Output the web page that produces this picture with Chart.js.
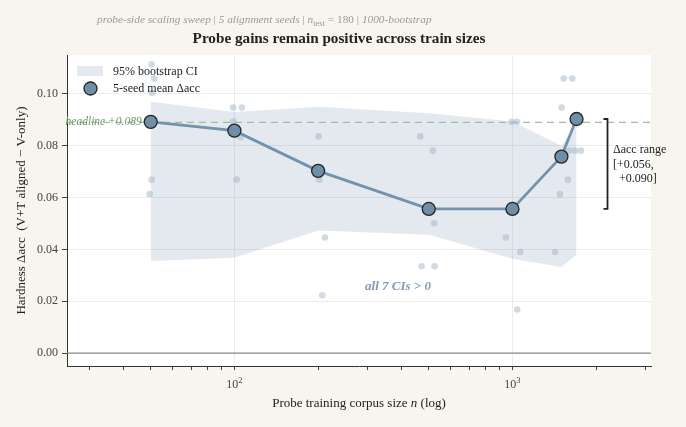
<!DOCTYPE html>
<html>
<head>
<meta charset="utf-8">
<script src="https://cdn.jsdelivr.net/npm/chart.js@4.4.1/dist/chart.umd.min.js"></script>
<style>
  html, body { margin: 0; padding: 0; background: #f8f5ef; }
  #wrap { width: 686px; height: 427px; }
</style>
</head>
<body>
<div id="wrap"><canvas id="myChart" width="686" height="427"></canvas></div>
<script>
// probe training sizes and 5-seed mean delta acc
var trainSizes = [50, 100, 200, 500, 1000, 1500, 1700];
var meanGain   = [0.0892, 0.0858, 0.0703, 0.0556, 0.0556, 0.0758, 0.0903];
// 95% bootstrap CI
var ciLow  = [0.0355, 0.0368, 0.0473, 0.0456, 0.0364, 0.0332, 0.0380];
var ciHigh = [0.0970, 0.0930, 0.0950, 0.0925, 0.0893, 0.0800, 0.0880];
// single seeds (x jittered in the figure)
var seedN   = [50.4, 51.5, 50.6, 50.4, 49.6,
               99, 106.4, 99, 105.3, 101.8,
               200.9, 201.8, 211.6, 207,
               466, 517.6, 523.2, 471.4, 524.9,
               993, 1038, 947.5, 1067, 1040.6,
               1503, 1583, 1482, 1422,
               1529, 1641, 1597, 1678, 1764];
var seedGain = [0.1114, 0.1059, 0.1003, 0.0669, 0.0613,
                0.0947, 0.0947, 0.0893, 0.0833, 0.0669,
                0.0836, 0.0669, 0.0446, 0.0223,
                0.0836, 0.0781, 0.0501, 0.0335, 0.0335,
                0.0892, 0.0892, 0.0446, 0.0390, 0.0168,
                0.0947, 0.0669, 0.0613, 0.0390,
                0.1059, 0.1059, 0.0781, 0.0781, 0.0781];
var headline = 0.089;
var xTicks = [30, 40, 50, 60, 70, 80, 90, 100, 200, 300, 400, 500, 600, 700, 800, 900, 1000, 2000, 3000];
var xMajor = [[100, '2'], [1000, '3']];
var yTicks = [0, 0.02, 0.04, 0.06, 0.08, 0.10];
var xMin = 25, xMax = 3150;

var serif = "'Liberation Serif', 'DejaVu Serif', serif";
var bandColor = 'rgba(115,147,173,0.2)';
var lineColor = '#7393ad';
var markerColor = '#6f8fa8';

var seedPts = seedN.map(function (n, i) { return {x: n, y: seedGain[i]}; });

// draws a run of [font, text, dy] pieces starting at x
function drawRun(c, parts, x, y) {
  parts.forEach(function (p) {
    c.font = p[0];
    c.fillText(p[1], x, y + p[2]);
    x += c.measureText(p[1]).width;
  });
}
function runWidth(c, parts) {
  var w = 0;
  parts.forEach(function (p) { c.font = p[0]; w += c.measureText(p[1]).width; });
  return w;
}

var figPlugin = {
  id: 'fig',
  beforeDraw: function (chart) {
    var c = chart.ctx, a = chart.chartArea;
    c.save();
    c.fillStyle = '#f8f5ef';
    c.fillRect(0, 0, chart.width, chart.height);
    c.fillStyle = '#ffffff';
    c.fillRect(a.left, a.top, a.right - a.left, a.bottom - a.top);
    c.restore();
  },
  beforeDatasetsDraw: function (chart) {
    var c = chart.ctx, a = chart.chartArea, y0 = chart.scales.y.getPixelForValue(0);
    c.save();
    c.strokeStyle = '#8a8a8a';
    c.lineWidth = 1.2;
    c.beginPath(); c.moveTo(a.left, y0); c.lineTo(a.right, y0); c.stroke();
    c.restore();
  },
  afterDraw: function (chart) {
    var c = chart.ctx, xs = chart.scales.x, ys = chart.scales.y, a = chart.chartArea;
    c.save();
    // subtitle
    c.fillStyle = '#9a9a9a';
    c.textBaseline = 'alphabetic';
    var f = 11.3;
    drawRun(c, [
      ['italic ' + f + 'px ' + serif, 'probe-side scaling sweep', 0],
      [f + 'px ' + serif, ' | ', 0],
      ['italic ' + f + 'px ' + serif, '5 alignment seeds', 0],
      [f + 'px ' + serif, ' | ', 0],
      ['italic ' + f + 'px ' + serif, 'n', 0],
      ['8.5px ' + serif, 'test', 3],
      [f + 'px ' + serif, ' = 180 | ', 0],
      ['italic ' + f + 'px ' + serif, '1000-bootstrap', 0]
    ], 97, 23);
    // title
    c.fillStyle = '#222';
    c.font = 'bold 15.2px ' + serif;
    c.textAlign = 'center';
    c.textBaseline = 'middle';
    c.fillText('Probe gains remain positive across train sizes', 339, 39);

    // x tick labels 10^k
    c.textAlign = 'left';
    c.textBaseline = 'alphabetic';
    c.fillStyle = '#444';
    xMajor.forEach(function (m) {
      var parts = [['12px ' + serif, '10', 0], ['8.5px ' + serif, m[1], -5]];
      var px = xs.getPixelForValue(m[0]);
      drawRun(c, parts, px - runWidth(c, parts) / 2, 388);
    });

    // x axis title with italic n
    c.fillStyle = '#222';
    var tparts = [['13px ' + serif, 'Probe training corpus size ', 0], ['italic 13px ' + serif, 'n', 0], ['13px ' + serif, ' (log)', 0]];
    drawRun(c, tparts, (a.left + a.right) / 2 - runWidth(c, tparts) / 2, 407);

    // legend
    c.textBaseline = 'middle';
    c.fillStyle = bandColor;
    c.fillRect(77, 66, 26, 10);
    c.beginPath(); c.arc(90.5, 88.5, 6.5, 0, Math.PI * 2);
    c.fillStyle = markerColor; c.fill();
    c.lineWidth = 1.3; c.strokeStyle = '#222'; c.stroke();
    c.fillStyle = '#222';
    c.font = '12px ' + serif;
    c.fillText('95% bootstrap CI', 113, 72);
    c.fillText('5-seed mean \u0394acc', 113, 89);

    // headline label
    c.font = 'italic 11.5px ' + serif;
    c.fillStyle = '#6a9a68';
    c.textAlign = 'right';
    c.fillText('headline +0.089', xs.getPixelForValue(trainSizes[0]) - 9, ys.getPixelForValue(headline));

    // CI note
    c.font = 'bold italic 13px ' + serif;
    c.fillStyle = '#7f9bb8';
    c.textAlign = 'center';
    c.fillText('all 7 CIs > 0', 398, 287);

    // range bracket
    var lo = Math.min.apply(null, meanGain), hi = Math.max.apply(null, meanGain);
    var bx = 607.5, bt = ys.getPixelForValue(hi), bb = ys.getPixelForValue(lo);
    c.strokeStyle = '#222'; c.lineWidth = 1.8;
    c.beginPath();
    c.moveTo(bx - 4, bt); c.lineTo(bx, bt); c.lineTo(bx, bb); c.lineTo(bx - 4, bb);
    c.stroke();
    c.fillStyle = '#222';
    c.font = '12px ' + serif;
    c.textAlign = 'left';
    c.fillText('\u0394acc range', 613, 150);
    c.fillText('[+' + lo.toFixed(3) + ',', 613, 165);
    c.fillText('  +' + hi.toFixed(3) + ']', 613, 179);
    c.restore();
  }
};

var ctx = document.getElementById('myChart').getContext('2d');
var chart = new Chart(ctx, {
  type: 'line',
  data: {
    datasets: [
      {
        label: 'ci high',
        data: trainSizes.map(function (n, i) { return {x: n, y: ciHigh[i]}; }),
        borderWidth: 0, pointRadius: 0, fill: false, tension: 0, order: 5
      },
      {
        label: '95% bootstrap CI',
        data: trainSizes.map(function (n, i) { return {x: n, y: ciLow[i]}; }),
        borderWidth: 0, pointRadius: 0, fill: '-1', backgroundColor: bandColor, tension: 0, order: 4
      },
      {
        label: 'headline',
        data: [{x: xMin, y: headline}, {x: xMax, y: headline}],
        borderColor: '#9dbf9d', borderWidth: 1.3, borderDash: [7, 5], pointRadius: 0, fill: false, order: 3
      },
      {
        type: 'scatter',
        label: 'seeds',
        data: seedPts,
        pointRadius: 3.3, pointBorderWidth: 0,
        pointBackgroundColor: 'rgba(160,182,200,0.5)', order: 2
      },
      {
        label: '5-seed mean \u0394acc',
        data: trainSizes.map(function (n, i) { return {x: n, y: meanGain[i]}; }),
        borderColor: lineColor, borderWidth: 2.8, tension: 0, fill: false,
        pointRadius: 6.5, pointBackgroundColor: markerColor,
        pointBorderColor: '#222', pointBorderWidth: 1.3, order: 1
      }
    ]
  },
  options: {
    responsive: false,
    animation: false,
    layout: { padding: { left: 0, right: 35, top: 55, bottom: 0 } },
    plugins: { legend: { display: false }, tooltip: { enabled: false }, title: { display: false } },
    scales: {
      x: {
        type: 'logarithmic', min: xMin, max: xMax,
        afterBuildTicks: function (s) {
          s.ticks = xTicks.map(function (v) { return {value: v, major: v === 100 || v === 1000}; });
        },
        afterFit: function (s) { s.height = 61; },
        ticks: {
          autoSkip: false, maxRotation: 0, padding: 4,
          color: '#444', font: { family: serif, size: 12 },
          callback: function () { return ''; }
        },
        grid: {
          color: function (c) { return c.tick && (c.tick.value === 100 || c.tick.value === 1000) ? '#ececec' : 'rgba(0,0,0,0)'; },
          tickColor: '#444', tickLength: 4
        },
        border: { display: true, color: '#333', width: 1 },
        title: { display: false }
      },
      y: {
        min: -0.005, max: 0.115,
        afterBuildTicks: function (s) {
          s.ticks = yTicks.map(function (v) { return {value: v}; });
        },
        afterFit: function (s) { s.width = 67; },
        ticks: {
          padding: 4, color: '#444', font: { family: serif, size: 12 },
          callback: function (v) { return v.toFixed(2); }
        },
        grid: { color: '#ececec', tickColor: '#444', tickLength: 5 },
        border: { display: true, color: '#333', width: 1 },
        title: {
          display: true, text: 'Hardness \u0394acc  (V+T aligned \u2212 V-only)',
          color: '#222', font: { family: serif, size: 13 }, padding: { top: 14, bottom: 0 }
        }
      }
    }
  },
  plugins: [figPlugin]
});
</script>
</body>
</html>
